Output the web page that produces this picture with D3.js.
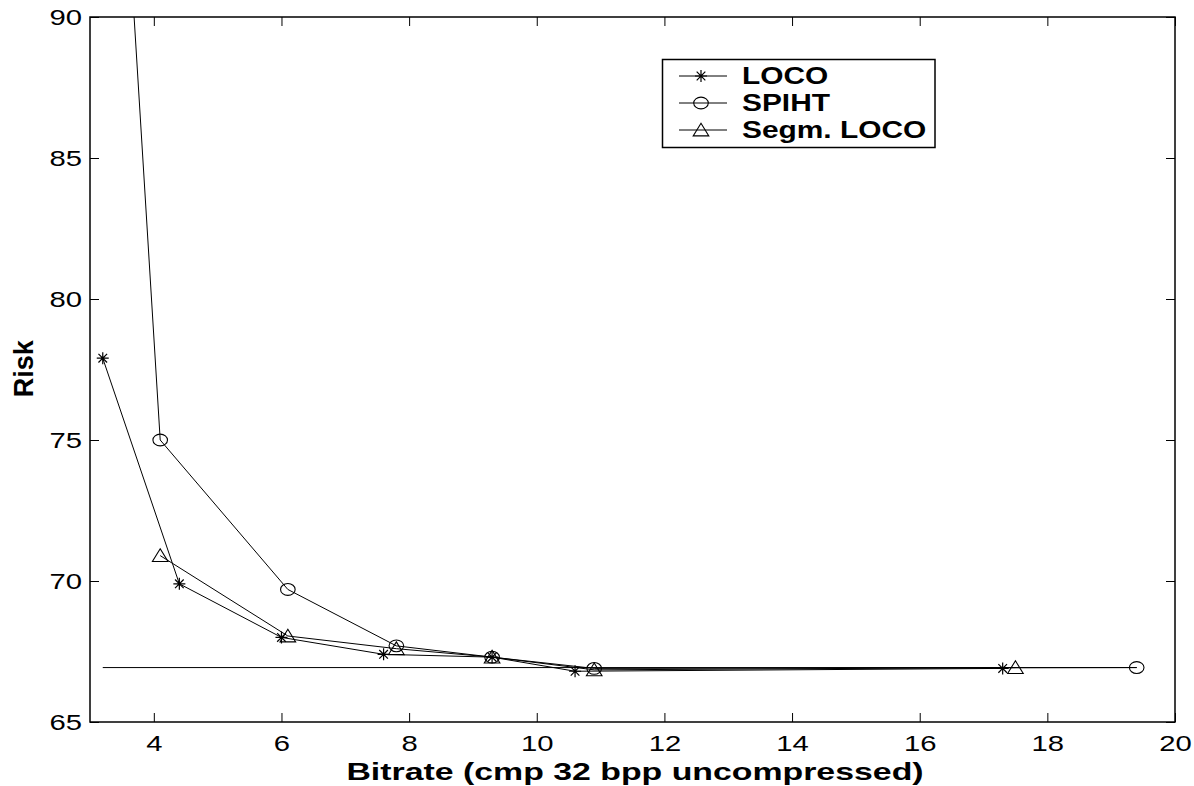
<!DOCTYPE html>
<html>
<head>
<meta charset="utf-8">
<script src="https://cdn.jsdelivr.net/npm/d3@7"></script>
<style>
  body { margin: 0; background: #fff; }
  text { font-family: "Liberation Sans", Arial, Helvetica, sans-serif; fill: #000; }
  .tick line { stroke: #000; }
</style>
</head>
<body>
<svg width="1194" height="786"></svg>
<script>
// bitrate vs risk
var locoX = [3.2, 4.4, 6.0, 7.6, 9.3, 10.6, 17.3];
var locoY = [77.9, 69.9, 68.0, 67.4, 67.3, 66.8, 66.9];
var spihtX = [3.5, 4.1, 6.1, 7.8, 9.3, 10.9, 19.4];
var spihtY = [97.0, 75.0, 69.7, 67.7, 67.3, 66.9, 66.93];
var segmX = [4.1, 6.1, 7.8, 9.3, 10.9, 17.5];
var segmY = [70.9, 68.05, 67.6, 67.3, 66.85, 66.93];
var refX = [3.2, 19.4];
var refY = [66.93, 66.93];
var xTicks = [4, 6, 8, 10, 12, 14, 16, 18, 20];
var yTicks = [65, 70, 75, 80, 85, 90];
var seriesNames = ["LOCO", "SPIHT", "Segm. LOCO"];

var svg = d3.select("svg"),
    pLeft = 90, pRight = 1175, pTop = 17, pBottom = 722,
    sx = 1.33; // text in the original looks stretched sideways

var x = d3.scaleLinear().domain([3, 20]).range([pLeft, pRight]);
var y = d3.scaleLinear().domain([65, 90]).range([pBottom, pTop]);

svg.append("clipPath").attr("id", "clip")
    .append("rect")
    .attr("x", pLeft).attr("y", pTop)
    .attr("width", pRight - pLeft).attr("height", pBottom - pTop);

// axes with inward ticks
var gx = svg.append("g")
    .attr("transform", "translate(0," + pBottom + ")")
    .call(d3.axisBottom(x).tickValues(xTicks).tickSize(-9).tickSizeOuter(0).tickPadding(13));
gx.select(".domain").remove();
gx.selectAll("text").style("font-size", "22px").attr("transform", "scale(" + sx + ",1)");

var gy = svg.append("g")
    .attr("transform", "translate(" + pLeft + ",0)")
    .call(d3.axisLeft(y).tickValues(yTicks).tickSize(-9).tickSizeOuter(0));
gy.select(".domain").remove();
gy.selectAll("text").style("font-size", "22px")
    .attr("x", -8 / sx).attr("transform", "scale(" + sx + ",1)");

var gt = svg.append("g")
    .attr("transform", "translate(0," + pTop + ")")
    .call(d3.axisTop(x).tickValues(xTicks).tickSize(-9).tickSizeOuter(0).tickFormat(""));
gt.select(".domain").remove();

var gr = svg.append("g")
    .attr("transform", "translate(" + pRight + ",0)")
    .call(d3.axisRight(y).tickValues(yTicks).tickSize(-9).tickSizeOuter(0).tickFormat(""));
gr.select(".domain").remove();

svg.append("rect")
    .attr("x", pLeft).attr("y", pTop)
    .attr("width", pRight - pLeft).attr("height", pBottom - pTop)
    .attr("fill", "none").attr("stroke", "#000").attr("stroke-width", 1.5);

// markers
function star(g, cx, cy) {
    var r = 6, d = r * 0.72;
    g.append("path")
        .attr("d", "M" + (cx - r) + "," + cy + "H" + (cx + r) +
            "M" + cx + "," + (cy - r) + "V" + (cy + r) +
            "M" + (cx - d) + "," + (cy - d) + "L" + (cx + d) + "," + (cy + d) +
            "M" + (cx - d) + "," + (cy + d) + "L" + (cx + d) + "," + (cy - d))
        .attr("stroke", "#000").attr("stroke-width", 1.2).attr("fill", "none");
}
function circ(g, cx, cy) {
    g.append("ellipse")
        .attr("cx", cx).attr("cy", cy).attr("rx", 7.3).attr("ry", 5.9)
        .attr("stroke", "#000").attr("stroke-width", 1.1).attr("fill", "none");
}
function tri(g, cx, cy) {
    g.append("path")
        .attr("d", "M" + cx + "," + (cy - 6.8) + "L" + (cx + 7.8) + "," + (cy + 5.9) +
            "L" + (cx - 7.8) + "," + (cy + 5.9) + "Z")
        .attr("stroke", "#000").attr("stroke-width", 1.1).attr("fill", "none");
}

var line = d3.line()
    .x(function (d) { return x(d[0]); })
    .y(function (d) { return y(d[1]); });

var plot = svg.append("g").attr("clip-path", "url(#clip)");

plot.append("path")
    .attr("d", line(d3.zip(refX, refY)))
    .attr("fill", "none").attr("stroke", "#000").attr("stroke-width", 1);

var series = [
    { xs: locoX, ys: locoY, mark: star },
    { xs: spihtX, ys: spihtY, mark: circ },
    { xs: segmX, ys: segmY, mark: tri }
];

series.forEach(function (s) {
    var pts = d3.zip(s.xs, s.ys);
    plot.append("path")
        .attr("d", line(pts))
        .attr("fill", "none").attr("stroke", "#000").attr("stroke-width", 1);
    pts.forEach(function (p) {
        if (p[1] <= 90) s.mark(plot, x(p[0]), y(p[1]));
    });
});

// axis labels
svg.append("text")
    .attr("transform", "translate(635,780) scale(1.41,1)")
    .attr("text-anchor", "middle")
    .style("font-size", "24px").style("font-weight", "bold")
    .text("Bitrate (cmp 32 bpp uncompressed)");

svg.append("text")
    .attr("transform", "translate(33,368.7) rotate(-90)")
    .attr("text-anchor", "middle")
    .style("font-size", "27px").style("font-weight", "bold")
    .text("Risk");

// legend
var lg = svg.append("g");
lg.append("rect")
    .attr("x", 662.5).attr("y", 59.5).attr("width", 272.5).attr("height", 88)
    .attr("fill", "#fff").attr("stroke", "#000").attr("stroke-width", 1.5);

var rowY = [76, 103, 130];
series.forEach(function (s, i) {
    lg.append("line")
        .attr("x1", 679).attr("x2", 727).attr("y1", rowY[i]).attr("y2", rowY[i])
        .attr("stroke", "#000").attr("stroke-width", 1);
    s.mark(lg, 701, rowY[i]);
    lg.append("text")
        .attr("transform", "translate(742," + (rowY[i] + 8.3) + ") scale(1.3,1)")
        .style("font-size", "23px").style("font-weight", "bold")
        .text(seriesNames[i]);
});
</script>
</body>
</html>
